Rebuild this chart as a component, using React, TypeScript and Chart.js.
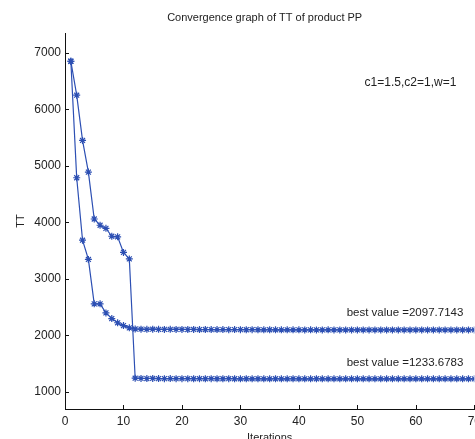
import React, { useEffect, useRef } from "react";
import { Chart, registerables } from "chart.js";
Chart.register(...registerables);

const TITLE = "Convergence graph of TT of product PP";
const PARAMS = "c1=1.5,c2=1,w=1";
const X_LABEL = "Iterations";
const Y_LABEL = "TT";
const X_TICKS = [0, 10, 20, 30, 40, 50, 60, 70];
const Y_TICKS = [1000, 2000, 3000, 4000, 5000, 6000, 7000];

const RUN_A = [
  6850, 6250, 5450, 4890, 4060, 3950, 3895, 3755, 3745, 3470,
  3355, 1245, 1241, 1239, 1240, 1238, 1237, 1238, 1236, 1237,
  1236, 1235, 1236, 1235, 1236, 1235, 1235, 1236, 1235, 1234,
  1235, 1234, 1235, 1234, 1234, 1235, 1234, 1234, 1235, 1234,
  1234, 1234, 1235, 1234, 1234, 1234, 1234, 1234, 1234, 1234,
  1234, 1234, 1234, 1234, 1234, 1234, 1234, 1234, 1234, 1234,
  1234, 1234, 1234, 1234, 1234, 1234, 1234, 1234, 1234, 1233.6783,
];
const RUN_B = [
  6850, 4790, 3685, 3345, 2560, 2560, 2400, 2300, 2225, 2175,
  2135, 2115, 2112, 2110, 2111, 2109, 2108, 2109, 2107, 2108,
  2106, 2107, 2105, 2106, 2104, 2105, 2104, 2103, 2104, 2103,
  2102, 2103, 2102, 2101, 2102, 2101, 2100, 2101, 2100, 2100,
  2099, 2100, 2099, 2099, 2100, 2099, 2099, 2098, 2099, 2098,
  2098, 2098, 2098, 2098, 2098, 2098, 2098, 2098, 2098, 2098,
  2098, 2098, 2098, 2098, 2098, 2098, 2098, 2098, 2098, 2097.7143,
];
const BEST_A = "1233.6783";
const BEST_B = "2097.7143";

const LINE_COLOR = "#2c4fb3";
const FONT = "'Liberation Sans', Arial, sans-serif";

const annotPlugin = {
  id: "annot",
  afterDraw(chart: any) {
    const { ctx, chartArea, scales } = chart;
    const xs = scales.x;
    const ys = scales.y;
    ctx.save();
    ctx.strokeStyle = "#111";
    ctx.lineWidth = 1;
    ctx.beginPath();
    X_TICKS.forEach((v) => {
      const px = Math.round(xs.getPixelForValue(v)) + 0.5;
      ctx.moveTo(px, chartArea.bottom);
      ctx.lineTo(px, chartArea.bottom - 4);
    });
    Y_TICKS.forEach((v) => {
      const py = Math.round(ys.getPixelForValue(v)) + 0.5;
      ctx.moveTo(chartArea.left, py);
      ctx.lineTo(chartArea.left + 4, py);
    });
    ctx.stroke();

    ctx.fillStyle = "#222";
    ctx.textBaseline = "middle";
    ctx.font = `11px ${FONT}`;
    ctx.textAlign = "center";
    ctx.fillText(TITLE, (chartArea.left + chartArea.right) / 2 - 5, 18);
    ctx.font = `12px ${FONT}`;
    ctx.textAlign = "right";
    ctx.fillText(PARAMS, chartArea.right - 18, 83);
    ctx.font = `11.5px ${FONT}`;
    ctx.fillText("best value =" + BEST_B, chartArea.right - 11, ys.getPixelForValue(Number(BEST_B)) - 17);
    ctx.fillText("best value =" + BEST_A, chartArea.right - 11, ys.getPixelForValue(Number(BEST_A)) - 16);
    ctx.restore();
  },
};

export default function App() {
  const ref = useRef<HTMLCanvasElement | null>(null);
  useEffect(() => {
    if (!ref.current) return;
    const mk = (arr: number[]) => arr.map((v, i) => ({ x: i + 1, y: v }));
    const ds = (arr: number[]) => ({
      data: mk(arr),
      borderColor: LINE_COLOR,
      backgroundColor: LINE_COLOR,
      borderWidth: 1.2,
      pointStyle: "star",
      pointRadius: 3.5,
      pointBorderWidth: 1.2,
      pointBorderColor: LINE_COLOR,
      tension: 0,
    });
    const chart = new Chart(ref.current, {
      type: "line",
      data: { datasets: [ds(RUN_A), ds(RUN_B)] as any },
      options: {
        animation: false,
        responsive: false,
        layout: { padding: { top: 33, left: 0, right: 0, bottom: 0 } },
        plugins: { legend: { display: false }, tooltip: { enabled: false }, title: { display: false } },
        scales: {
          x: {
            type: "linear",
            min: 0,
            max: 70,
            afterBuildTicks: (s: any) => { s.ticks = X_TICKS.map((v) => ({ value: v })); },
            afterFit: (s: any) => { s.height = 36; },
            grid: { display: false, drawTicks: false },
            border: { display: true, color: "#111", width: 1 },
            ticks: { padding: 5, color: "#222", font: { family: FONT, size: 12 }, maxRotation: 0, callback: (v: any) => String(v) },
            title: { display: true, text: X_LABEL, color: "#222", font: { family: FONT, size: 11 }, padding: { top: 0, bottom: 0 } },
          },
          y: {
            type: "linear",
            min: 700,
            max: 7350,
            afterBuildTicks: (s: any) => { s.ticks = Y_TICKS.map((v) => ({ value: v })); },
            afterFit: (s: any) => { s.width = 65; },
            grid: { display: false, drawTicks: false },
            border: { display: true, color: "#111", width: 1 },
            ticks: { padding: 4, color: "#222", font: { family: FONT, size: 12 }, callback: (v: any) => String(v) },
            title: { display: true, text: Y_LABEL, color: "#222", font: { family: FONT, size: 11 }, padding: { top: 14, bottom: 0 } },
          },
        },
      },
      plugins: [annotPlugin],
    } as any);
    return () => chart.destroy();
  }, []);
  return (
    <div style={{ position: "absolute", left: 0, top: 0, width: 486, height: 445, background: "#fff" }}>
      <canvas ref={ref} width={486} height={445} style={{ display: "block" }} />
    </div>
  );
}
